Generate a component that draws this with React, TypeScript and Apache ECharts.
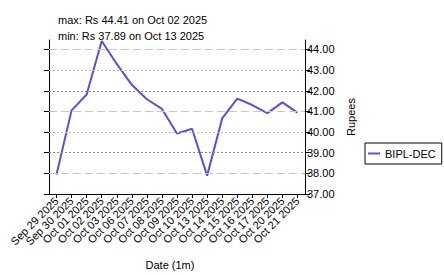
import React, { useEffect, useRef } from "react";
import * as echarts from "echarts";

const categories = [
  "Sep 29 2025", "Sep 30 2025", "Oct 01 2025", "Oct 02 2025", "Oct 03 2025",
  "Oct 06 2025", "Oct 07 2025", "Oct 08 2025", "Oct 09 2025", "Oct 10 2025",
  "Oct 13 2025", "Oct 14 2025", "Oct 15 2025", "Oct 16 2025", "Oct 17 2025",
  "Oct 20 2025", "Oct 21 2025",
];
const prices = [
  37.94, 41.05, 41.82, 44.41, 43.3, 42.29, 41.59, 41.12, 39.93, 40.16,
  37.89, 40.66, 41.62, 41.31, 40.92, 41.44, 40.94,
];
const yTicks = [37, 38, 39, 40, 41, 42, 43, 44];
const gridStyles = [
  null,
  { type: [8, 4], color: "#c8c8c8" },
  { type: [2, 2], color: "#888888" },
  { type: [2, 2], color: "#bbbbbb" },
  { type: [8, 4], color: "#c8c8c8" },
  { type: [2, 2], color: "#888888" },
  { type: [2, 2], color: "#bbbbbb" },
  { type: [8, 4], color: "#c8c8c8" },
];
const seriesName = "BIPL-DEC";
const maxText = "max: Rs 44.41 on Oct 02 2025";
const minText = "min: Rs 37.89 on Oct 13 2025";

const FONT = "'Liberation Sans', Arial, sans-serif";

export default function App() {
  const ref = useRef<HTMLDivElement>(null);
  useEffect(() => {
    document.body.style.margin = "0";
    const chart = echarts.init(ref.current!, null, { renderer: "svg" });
    const yCommon = {
      type: "value",
      min: 37,
      max: 44.46,
      interval: 1,
      splitLine: { show: false },
      axisLine: { show: true, lineStyle: { color: "#000", width: 1 } },
      axisTick: { show: true, length: 5, customValues: yTicks, lineStyle: { color: "#000" } },
    };
    chart.setOption({
      animation: false,
      textStyle: { fontFamily: FONT },
      grid: { left: 49, right: 139, top: 40, bottom: 74, containLabel: false },
      graphic: [
        { type: "text", left: 58, top: 14, style: { text: maxText, font: `11px ${FONT}`, fill: "#000" } },
        { type: "text", left: 58, top: 30, style: { text: minText, font: `11px ${FONT}`, fill: "#000" } },
      ],
      legend: {
        left: 365,
        top: 143,
        orient: "vertical",
        data: [{ name: seriesName, icon: "rect" }],
        itemWidth: 12,
        itemHeight: 2,
        itemGap: 4,
        padding: [5, 6, 5, 3],
        borderColor: "#000",
        borderWidth: 1,
        borderRadius: 0,
        textStyle: { fontSize: 11, color: "#000", fontFamily: FONT },
      },
      xAxis: {
        type: "category",
        data: categories,
        boundaryGap: true,
        name: "Date (1m)",
        nameLocation: "middle",
        nameGap: 65,
        nameTextStyle: { fontSize: 11, color: "#000", fontFamily: FONT, padding: [0, 14, 0, 0] },
        axisLine: { show: true, lineStyle: { color: "#000" } },
        axisTick: { show: true, alignWithLabel: true, length: 4, lineStyle: { color: "#000" } },
        axisLabel: { rotate: 45, interval: 0, fontSize: 11, color: "#000", margin: 5, fontFamily: FONT },
        splitLine: { show: false },
      },
      yAxis: [
        {
          ...yCommon,
          position: "right",
          name: "Rupees",
          nameLocation: "middle",
          nameGap: 40,
          nameTextStyle: { fontSize: 11, color: "#000", fontFamily: FONT },
          axisLabel: {
            show: true,
            customValues: yTicks,
            formatter: (v: number) => v.toFixed(2),
            fontSize: 11,
            color: "#000",
            margin: 2,
            fontFamily: FONT,
          },
        },
        {
          ...yCommon,
          position: "left",
          axisLabel: { show: false },
        },
      ],
      series: [
        {
          name: seriesName,
          type: "line",
          data: prices,
          yAxisIndex: 0,
          symbol: "none",
          lineStyle: { color: "#5b50d0", width: 2 },
          itemStyle: { color: "#5b50d0" },
          markLine: {
            silent: true,
            symbol: "none",
            label: { show: false },
            animation: false,
            data: yTicks
              .map((v, i) =>
                gridStyles[i]
                  ? { yAxis: v, lineStyle: { ...gridStyles[i], width: 1 } }
                  : null
              )
              .filter(Boolean),
          },
          z: 3,
        },
      ],
    });
    return () => chart.dispose();
  }, []);
  return <div ref={ref} style={{ width: 444, height: 275 }} />;
}
